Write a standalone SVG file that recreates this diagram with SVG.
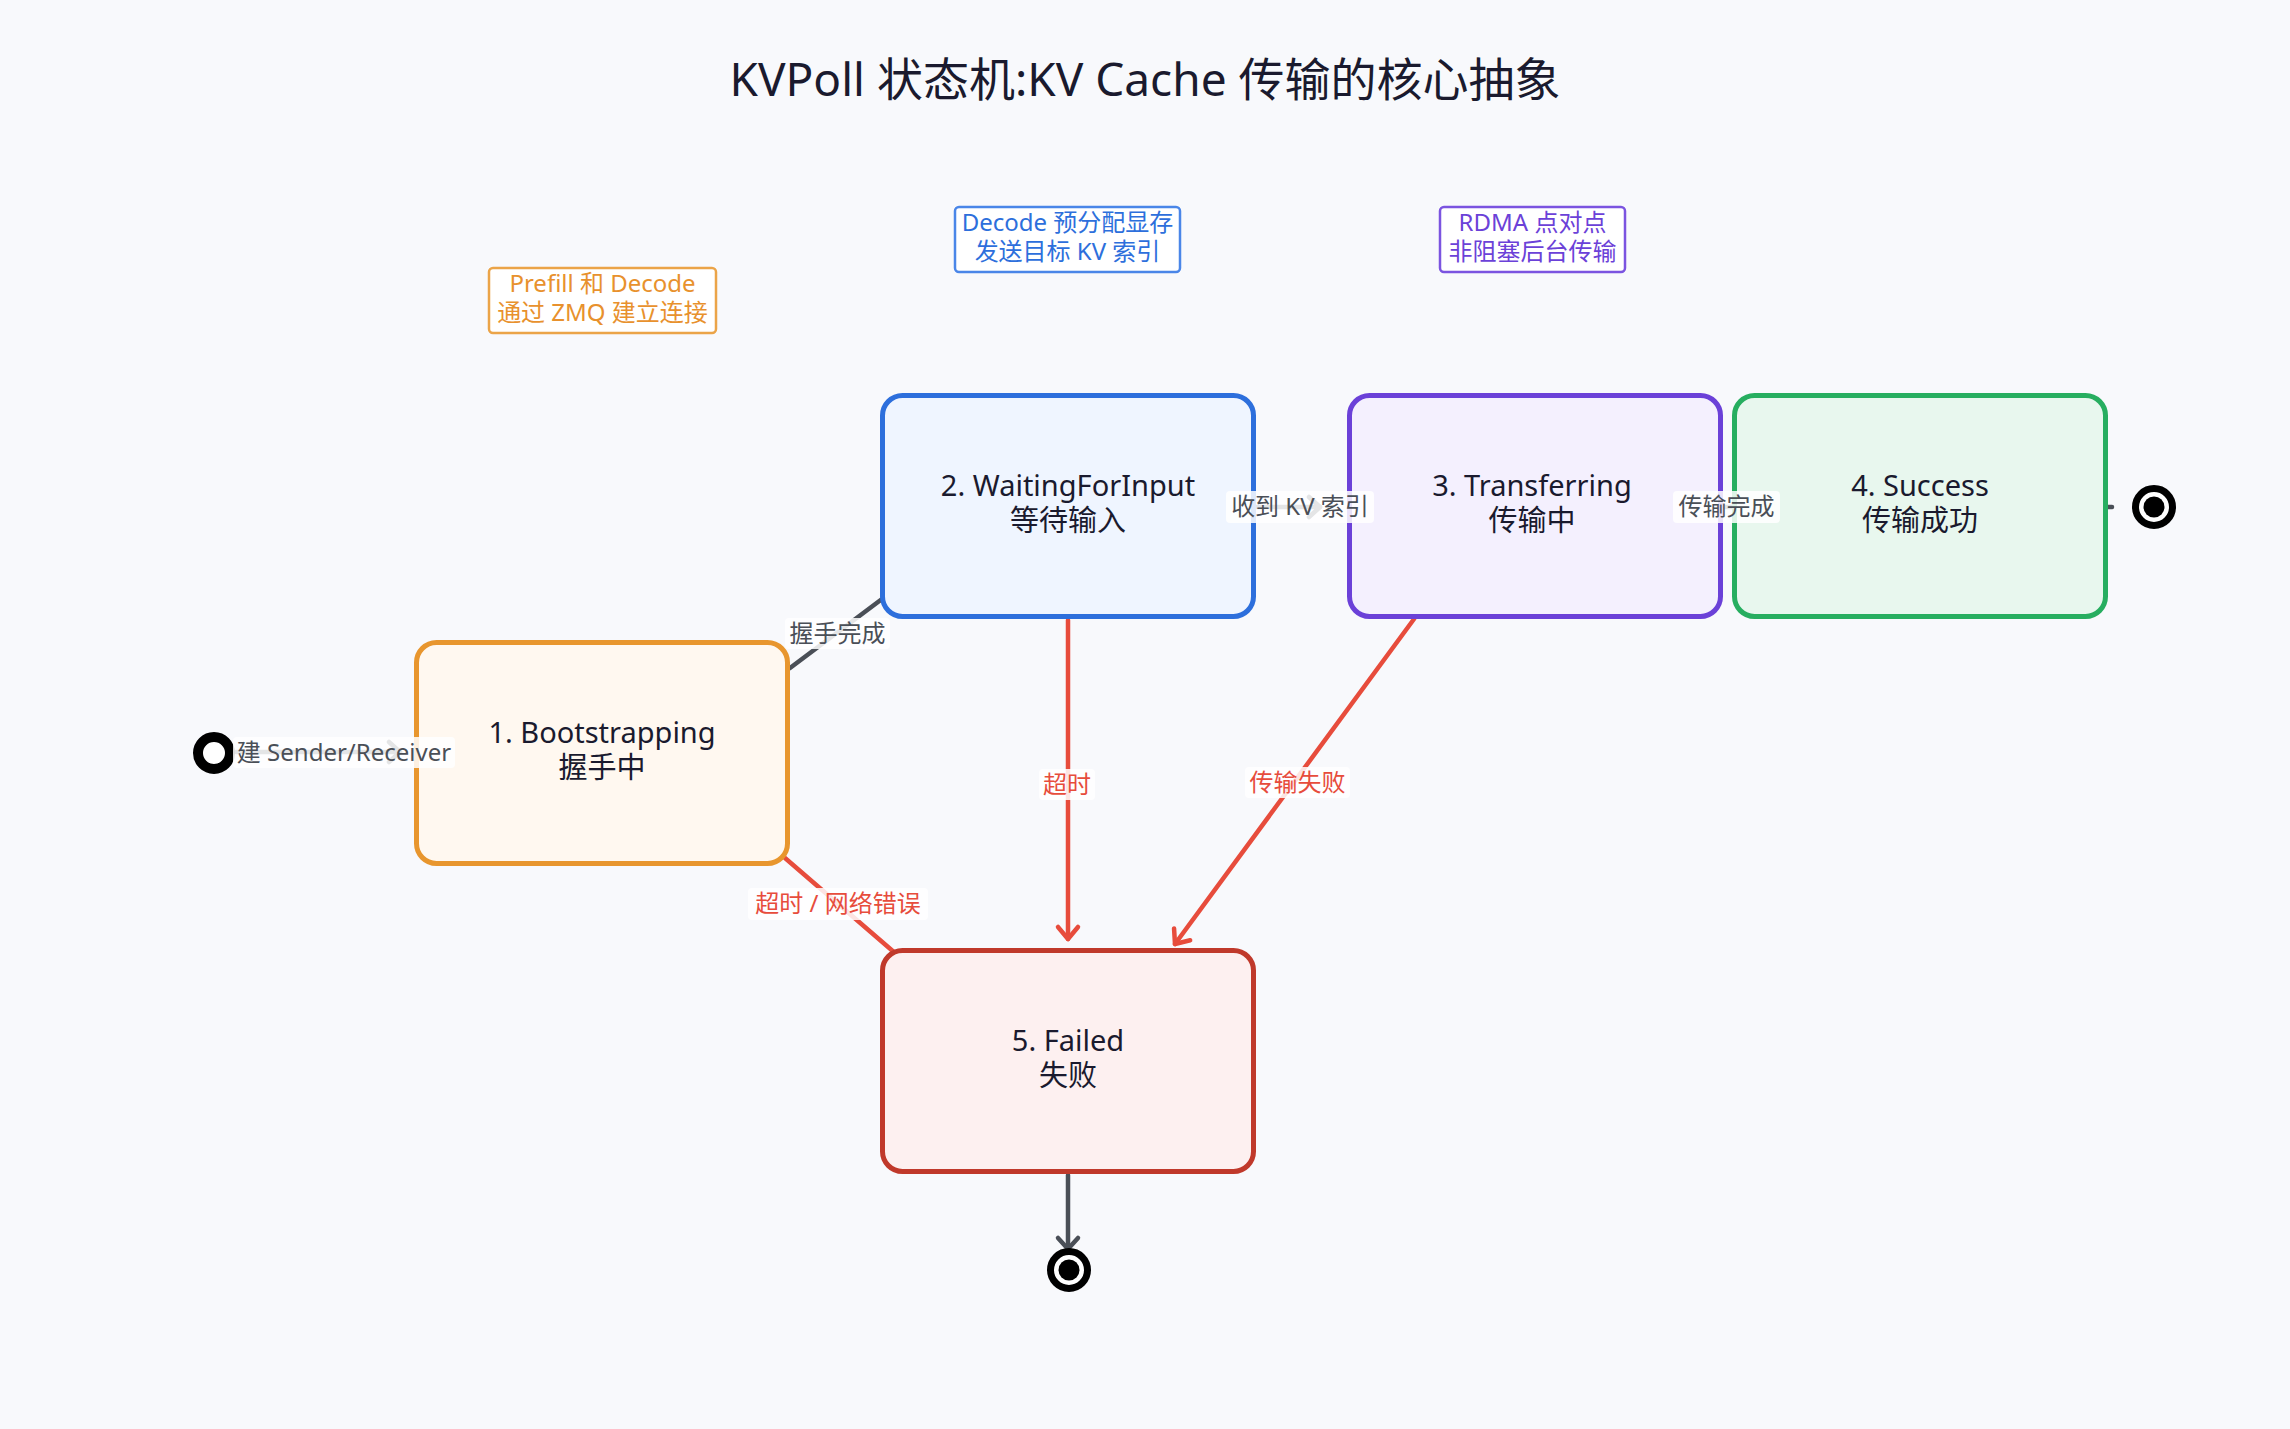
<svg xmlns="http://www.w3.org/2000/svg" width="2290" height="1429" viewBox="0 0 2290 1429">
<defs>
<style>
text{font-family:"Noto Sans","Noto Sans CJK SC",sans-serif;text-anchor:middle}
.title{font-size:46px;fill:#1a1a2e}
.nt{font-size:29px;fill:#1a1a2e}
.node{stroke-width:5}
.note{fill:#ffffff;stroke-width:2.5}
.nl{font-size:24px}
.lbg{fill:#ffffff;fill-opacity:0.85}
.lg{font-size:24px;fill:#4a4f57}
.lr{font-size:24px;fill:#e74c3c}
.eg{stroke:#4a4f57;stroke-width:4.5;fill:none;stroke-linecap:round}
.er{stroke:#e74c3c;stroke-width:4.5;fill:none;stroke-linecap:round}
</style>
<marker id="ag" markerUnits="userSpaceOnUse" viewBox="-14 -14 28 28" markerWidth="28" markerHeight="28" refX="0" refY="0" orient="auto" overflow="visible">
<path d="M-11,-10 L0,0 L-11,10" fill="none" stroke="#4a4f57" stroke-width="4.5" stroke-linecap="round" stroke-linejoin="round"/>
</marker>
<marker id="ar" markerUnits="userSpaceOnUse" viewBox="-14 -14 28 28" markerWidth="28" markerHeight="28" refX="0" refY="0" orient="auto" overflow="visible">
<path d="M-12,-10 L0,0 L-12,10" fill="none" stroke="#e74c3c" stroke-width="4.5" stroke-linecap="round" stroke-linejoin="round"/>
</marker>
</defs>
<rect x="0" y="0" width="2290" height="1429" fill="#f8f9fc"/>
<text class="title" x="1145" y="96">KVPoll 状态机:KV Cache 传输的核心抽象</text>

<g id="connectors">
<line class="eg" x1="236" y1="752" x2="400" y2="752" marker-end="url(#ag)"/>
<line class="eg" x1="790" y1="668" x2="886" y2="596"/>
<line class="eg" x1="1255" y1="507" x2="1320" y2="507" marker-end="url(#ag)"/>
<line class="eg" x1="1720" y1="507" x2="1734" y2="507"/>
<line class="eg" x1="2106" y1="507" x2="2112" y2="507"/>
<line class="er" x1="1068" y1="620" x2="1068" y2="939" marker-end="url(#ar)"/>
<line class="er" x1="1414" y1="619" x2="1175" y2="944" marker-end="url(#ar)"/>
<line class="er" x1="785" y1="858" x2="895" y2="953"/>
<line class="eg" x1="1068" y1="1175" x2="1068" y2="1249" marker-end="url(#ag)"/>
</g>

<g id="start">
<circle cx="214" cy="753" r="16" fill="#ffffff" stroke="#000000" stroke-width="10"/>
</g>
<g id="end-success">
<circle cx="2154" cy="507" r="18.5" fill="#ffffff" stroke="#000000" stroke-width="7"/>
<circle cx="2154" cy="507" r="10.5" fill="#000000"/>
</g>
<g id="end-failed">
<circle cx="1069" cy="1270" r="18.5" fill="#ffffff" stroke="#000000" stroke-width="7"/>
<circle cx="1069" cy="1270" r="10.5" fill="#000000"/>
</g>

<g id="node-bootstrapping">
<rect class="node" x="416.5" y="642.5" width="371" height="221" rx="20" fill="#fff8f0" stroke="#e8962e"/>
<text class="nt" x="602" y="743">1. Bootstrapping</text>
<text class="nt" x="602" y="778">握手中</text>
</g>
<g id="node-waiting">
<rect class="node" x="882.5" y="395.5" width="371" height="221" rx="20" fill="#eff5ff" stroke="#2d6fdc"/>
<text class="nt" x="1068" y="496">2. WaitingForInput</text>
<text class="nt" x="1068" y="531">等待输入</text>
</g>
<g id="node-transferring">
<rect class="node" x="1349.5" y="395.5" width="371" height="221" rx="20" fill="#f4f0fe" stroke="#6b41d8"/>
<text class="nt" x="1532" y="496">3. Transferring</text>
<text class="nt" x="1532" y="531">传输中</text>
</g>
<g id="node-success">
<rect class="node" x="1734.5" y="395.5" width="371" height="221" rx="20" fill="#e8f7ee" stroke="#27ae60"/>
<text class="nt" x="1920" y="496">4. Success</text>
<text class="nt" x="1920" y="531">传输成功</text>
</g>
<g id="node-failed">
<rect class="node" x="882.5" y="950.5" width="371" height="221" rx="20" fill="#fdf0f0" stroke="#c0392b"/>
<text class="nt" x="1068" y="1051">5. Failed</text>
<text class="nt" x="1068" y="1086">失败</text>
</g>

<g id="note-handshake">
<rect class="note" x="489" y="268" width="227" height="65" rx="4" stroke="#eba448"/>
<text class="nl" x="602.5" y="292" fill="#e8912d">Prefill 和 Decode</text>
<text class="nl" x="602.5" y="321" fill="#e8912d">通过 ZMQ 建立连接</text>
</g>
<g id="note-decode">
<rect class="note" x="955" y="207" width="225" height="65" rx="4" stroke="#4a86e8"/>
<text class="nl" x="1067.5" y="231" fill="#2d6fdc">Decode 预分配显存</text>
<text class="nl" x="1067.5" y="260" fill="#2d6fdc">发送目标 KV 索引</text>
</g>
<g id="note-rdma">
<rect class="note" x="1440" y="207" width="185" height="65" rx="4" stroke="#7b54e0"/>
<text class="nl" x="1532.5" y="231" fill="#6b41d8">RDMA 点对点</text>
<text class="nl" x="1532.5" y="260" fill="#6b41d8">非阻塞后台传输</text>
</g>

<g id="edge-labels">
<rect class="lbg" x="233" y="737" width="222" height="31" rx="4"/>
<text class="lg" x="344" y="761">建 Sender/Receiver</text>
<rect class="lbg" x="785" y="618" width="105" height="31" rx="4"/>
<text class="lg" x="837.5" y="642">握手完成</text>
<rect class="lbg" x="1226" y="491" width="148" height="32" rx="4"/>
<text class="lg" x="1300" y="515">收到 KV 索引</text>
<rect class="lbg" x="1673" y="491" width="107" height="32" rx="4"/>
<text class="lg" x="1726.5" y="515">传输完成</text>
<rect class="lbg" x="1039" y="769" width="56" height="31" rx="4"/>
<text class="lr" x="1067" y="793">超时</text>
<rect class="lbg" x="1245" y="767" width="105" height="31" rx="4"/>
<text class="lr" x="1297.5" y="791">传输失败</text>
<rect class="lbg" x="748" y="888" width="180" height="32" rx="4"/>
<text class="lr" x="838" y="912">超时 / 网络错误</text>
</g>
</svg>
